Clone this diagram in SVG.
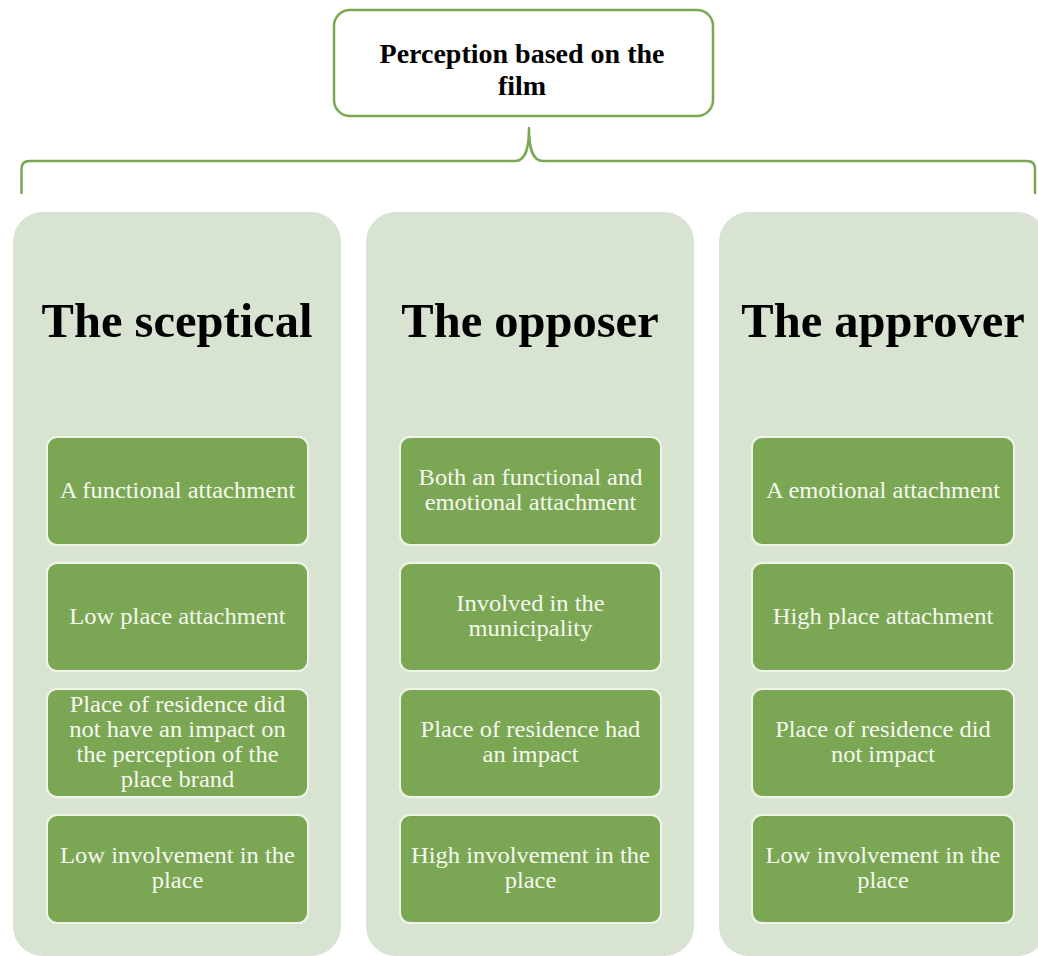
<svg xmlns="http://www.w3.org/2000/svg" width="1038" height="956" viewBox="0 0 1038 956">
<style>
.bg{fill:#ffffff}
.root{fill:#ffffff;stroke:#7aa852;stroke-width:2.5}
.roottxt{font-family:"Liberation Serif","Times New Roman",serif;font-weight:bold;font-size:28px;fill:#000;text-anchor:middle}
.panel{fill:#d8e3d1}
.title{font-family:"Liberation Serif","Times New Roman",serif;font-weight:bold;font-size:48.5px;fill:#000;text-anchor:middle}
.box{fill:#7ba653;stroke:#eef5e8;stroke-width:2}
.btxt{font-family:"Liberation Serif","Times New Roman",serif;font-size:22.5px;fill:#f4f9ef;text-anchor:middle}
.brace{fill:none;stroke:#7aa852;stroke-width:2.5;stroke-linejoin:round;stroke-linecap:round}
</style>
<rect class="bg" x="0" y="0" width="1038" height="956"/>

<g id="root">
<rect class="root" x="334" y="10" width="379" height="106" rx="16"/>
<text class="roottxt" x="522" y="62.5">Perception based on the<tspan x="522" y="95">film</tspan></text>
</g>

<g id="connectors">
<path class="brace" d="M21.5,193 L21.5,169 Q21.5,161 29.5,161 L515,161 C525,161 529,150 529,128 C529,150 533,161 543,161 L1027,161 Q1035,161 1035,169 L1035,193"/>
</g>

<g id="sceptical">
<rect class="panel" x="13" y="212" width="328" height="744" rx="30"/>
<text class="title" x="177" y="337">The sceptical</text>
<g id="sceptical-1"><rect class="box" x="47" y="437" width="261" height="108" rx="10"/>
<text class="btxt" transform="matrix(1.09 0 0 1 -15.975 0)" x="177.5" y="498">A functional attachment</text></g>
<g id="sceptical-2"><rect class="box" x="47" y="563" width="261" height="108" rx="10"/>
<text class="btxt" transform="matrix(1.09 0 0 1 -15.975 0)" x="177.5" y="624">Low place attachment</text></g>
<g id="sceptical-3"><rect class="box" x="47" y="689" width="261" height="108" rx="10"/>
<text class="btxt" transform="matrix(1.09 0 0 1 -15.975 0)" x="177.5" y="712.5">Place of residence did<tspan x="177.5" y="737.5">not have an impact on</tspan><tspan x="177.5" y="762.5">the perception of the</tspan><tspan x="177.5" y="787.5">place brand</tspan></text></g>
<g id="sceptical-4"><rect class="box" x="47" y="815" width="261" height="108" rx="10"/>
<text class="btxt" transform="matrix(1.09 0 0 1 -15.975 0)" x="177.5" y="863.5">Low involvement in the<tspan x="177.5" y="888.5">place</tspan></text></g>
</g>

<g id="opposer">
<rect class="panel" x="366" y="212" width="328" height="744" rx="30"/>
<text class="title" x="530" y="337">The opposer</text>
<g id="opposer-1"><rect class="box" x="400" y="437" width="261" height="108" rx="10"/>
<text class="btxt" transform="matrix(1.09 0 0 1 -47.745 0)" x="530.5" y="485.5">Both an functional and<tspan x="530.5" y="510.5">emotional attachment</tspan></text></g>
<g id="opposer-2"><rect class="box" x="400" y="563" width="261" height="108" rx="10"/>
<text class="btxt" transform="matrix(1.09 0 0 1 -47.745 0)" x="530.5" y="611.5">Involved in the<tspan x="530.5" y="636.5">municipality</tspan></text></g>
<g id="opposer-3"><rect class="box" x="400" y="689" width="261" height="108" rx="10"/>
<text class="btxt" transform="matrix(1.09 0 0 1 -47.745 0)" x="530.5" y="737.5">Place of residence had<tspan x="530.5" y="762.5">an impact</tspan></text></g>
<g id="opposer-4"><rect class="box" x="400" y="815" width="261" height="108" rx="10"/>
<text class="btxt" transform="matrix(1.09 0 0 1 -47.745 0)" x="530.5" y="863.5">High involvement in the<tspan x="530.5" y="888.5">place</tspan></text></g>
</g>

<g id="approver">
<rect class="panel" x="719" y="212" width="328" height="744" rx="30"/>
<text class="title" x="883" y="337">The approver</text>
<g id="approver-1"><rect class="box" x="752" y="437" width="262" height="108" rx="10"/>
<text class="btxt" transform="matrix(1.09 0 0 1 -79.47 0)" x="883" y="498">A emotional attachment</text></g>
<g id="approver-2"><rect class="box" x="752" y="563" width="262" height="108" rx="10"/>
<text class="btxt" transform="matrix(1.09 0 0 1 -79.47 0)" x="883" y="624">High place attachment</text></g>
<g id="approver-3"><rect class="box" x="752" y="689" width="262" height="108" rx="10"/>
<text class="btxt" transform="matrix(1.09 0 0 1 -79.47 0)" x="883" y="737.5">Place of residence did<tspan x="883" y="762.5">not impact</tspan></text></g>
<g id="approver-4"><rect class="box" x="752" y="815" width="262" height="108" rx="10"/>
<text class="btxt" transform="matrix(1.09 0 0 1 -79.47 0)" x="883" y="863.5">Low involvement in the<tspan x="883" y="888.5">place</tspan></text></g>
</g>
</svg>
